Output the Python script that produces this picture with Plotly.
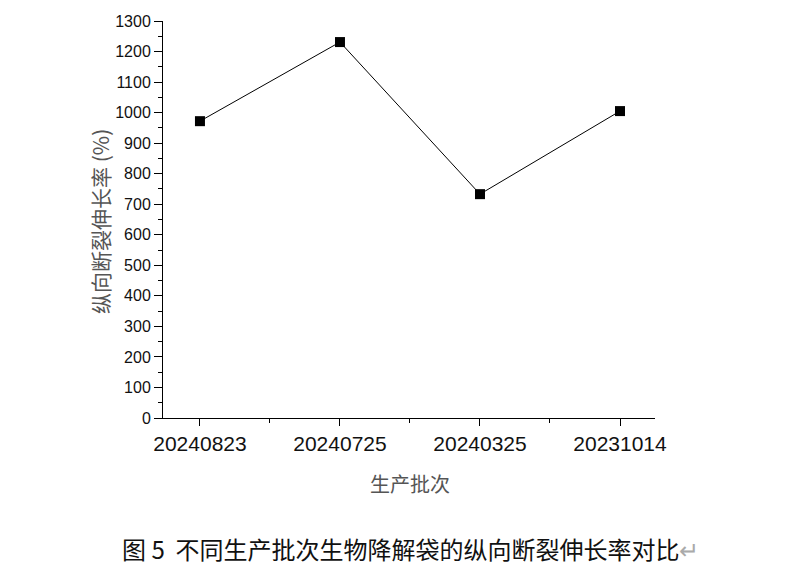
import plotly.graph_objects as go

categories = ["20240823", "20240725", "20240325", "20231014"]
elongation = [972, 1231, 733, 1005]
y_ticks = list(range(0, 1301, 100))

x_pos = list(range(len(categories)))

fig = go.Figure()
fig.add_trace(go.Scatter(
    x=x_pos, y=elongation, mode="lines+markers",
    line=dict(color="black", width=1),
    marker=dict(symbol="square", size=10, color="black"),
    showlegend=False,
))

fig.update_layout(
    width=800, height=574,
    margin=dict(l=163, r=145, t=21, b=156),
    plot_bgcolor="white", paper_bgcolor="white",
    font=dict(family="Liberation Sans, Arial, sans-serif", color="#111"),
)
fig.update_xaxes(
    range=[-0.264, 3.25], tickvals=x_pos, ticktext=categories,
    showgrid=False, zeroline=False, showline=True, linecolor="black", linewidth=1,
    ticks="outside", ticklen=7, tickcolor="black", tickwidth=1,
    tickfont=dict(size=21, color="#111"),
    minor=dict(tickvals=[0.5, 1.5, 2.5], ticks="outside", ticklen=4, tickcolor="black", showgrid=False),
)
fig.update_yaxes(
    range=[0, 1300], tickvals=y_ticks,
    showgrid=False, zeroline=False, showline=True, linecolor="black", linewidth=1,
    ticks="outside", ticklen=8, tickcolor="black", tickwidth=1,
    tickfont=dict(size=16, color="#111"),
    minor=dict(dtick=50, tick0=0, ticks="outside", ticklen=4, tickcolor="black", showgrid=False),
)

cjk = "Noto Sans CJK SC, sans-serif"
fig.add_annotation(
    text="纵向断裂伸长率 (%)", x=100, y=222, xref="paper", yref="paper",
    showarrow=False, textangle=-90, font=dict(family=cjk, size=21, color="#555"),
)
fig.add_annotation(
    text="生产批次", x=410, y=483, showarrow=False,
    font=dict(family=cjk, size=20, color="#555"),
)
fig.add_annotation(
    text="图 5  不同生产批次生物降解袋的纵向断裂伸长率对比<span style='color:#aaa'>↵</span>",
    x=410, y=548, showarrow=False,
    font=dict(family=cjk, size=24, color="#111"),
)

# convert pixel positions of annotations to paper coordinates
W, H = 800, 574
l, r, t, b = 163, 145, 21, 156
pw, ph = W - l - r, H - t - b
for ann in fig.layout.annotations:
    px, py = ann.x, ann.y
    ann.x = (px - l) / pw
    ann.y = (H - b - py) / ph
    ann.xref = "paper"
    ann.yref = "paper"
    ann.xanchor = "center"
    ann.yanchor = "middle"

fig.write_html("out.html")
